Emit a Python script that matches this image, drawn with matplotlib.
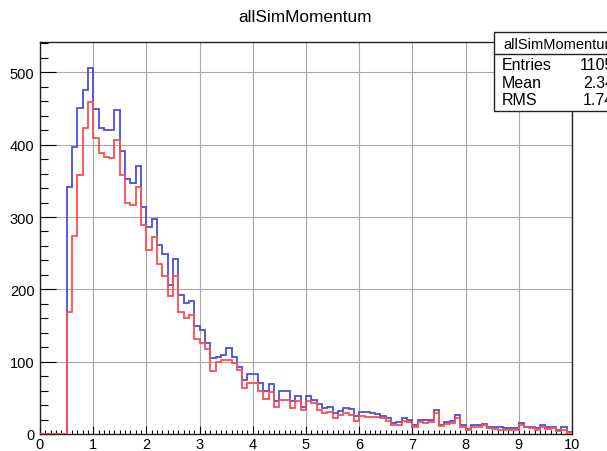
import numpy as np
import matplotlib.pyplot as plt
from matplotlib.patches import Rectangle
from matplotlib.lines import Line2D

plt.rcParams['font.family'] = ['Liberation Sans', 'DejaVu Sans']

# histogram binning: 100 bins from 0 to 10
x_lo, x_hi, n_bins = 0.0, 10.0, 100

# counts per bin, bins 0.0-0.1 ... 9.9-10.0
all_counts = [
    0, 0, 0, 0, 0, 342, 397, 451, 476, 506,
    450, 423, 420, 420, 448, 391, 353, 347, 371, 314,
    286, 297, 262, 249, 206, 242, 192, 181, 184, 149,
    144, 126, 105, 107, 109, 119, 107, 93, 75, 83,
    83, 70, 59, 69, 45, 59, 59, 45, 52, 38,
    52, 47, 42, 36, 37, 29, 32, 36, 34, 25,
    30, 30, 29, 28, 25, 22, 15, 16, 22, 19,
    13, 20, 19, 19, 33, 13, 17, 18, 26, 13,
    7, 12, 13, 14, 10, 9, 9, 8, 8, 8,
    15, 10, 10, 8, 13, 10, 10, 6, 9, 3,
]
sel_counts = [
    0, 0, 0, 0, 0, 168, 274, 358, 423, 459,
    409, 389, 383, 382, 406, 358, 320, 317, 341, 289,
    255, 273, 235, 219, 191, 218, 168, 161, 165, 131,
    126, 117, 87, 100, 102, 103, 98, 89, 63, 71,
    71, 60, 48, 58, 38, 47, 47, 36, 45, 33,
    45, 43, 33, 29, 31, 22, 26, 29, 26, 18,
    25, 24, 24, 24, 22, 18, 12, 13, 18, 16,
    10, 17, 15, 16, 29, 11, 14, 15, 22, 10,
    5, 9, 10, 12, 8, 7, 6, 6, 6, 5,
    12, 9, 8, 6, 10, 7, 8, 4, 6, 2,
]

title = "allSimMomentum"
stats_labels = ["Entries", "Mean", "RMS"]
stats_values = ["11059", "2.349", "1.745"]

edges = np.linspace(x_lo, x_hi, n_bins + 1)

fig = plt.figure(figsize=(6.07, 4.52), dpi=100)
W, H = 607.0, 452.0
ax = fig.add_axes([40 / W, 1 - 435 / H, 532 / W, 392 / H])

ax.stairs(all_counts, edges, baseline=0, color='#4d4ddf', lw=1.3, zorder=3)
ax.stairs(sel_counts, edges, baseline=0, color='#ff4d4d', lw=1.3, zorder=4)

ax.set_xlim(x_lo, x_hi)
ax.set_ylim(0, 542)
ax.set_xticks(np.arange(0, 11, 1))
ax.set_xticks(np.arange(0, 10.01, 0.1), minor=True)
ax.set_yticks(np.arange(0, 501, 100))
ax.set_yticks(np.arange(0, 541, 20), minor=True)
ax.grid(True, which='major', color='#a8a8a8', lw=0.8, zorder=0)
ax.set_axisbelow(True)

ax.tick_params(axis='x', which='major', direction='in', length=6, width=0.8,
               labelsize=10.5, pad=2, top=False)
ax.tick_params(axis='x', which='minor', direction='in', length=3, width=0.8, top=False)
ax.tick_params(axis='y', which='major', direction='in', length=11.5, width=0.8,
               labelsize=10.5, pad=4, right=False)
ax.tick_params(axis='y', which='minor', direction='in', length=5.8, width=0.8, right=False)
for s in ax.spines.values():
    s.set_linewidth(1.0)
    s.set_color('#222222')

fig.text(305 / W, 1 - 18 / H, title, ha='center', va='center', fontsize=12.4)

# stats box, partly outside the canvas as in the original
box = Rectangle((494 / W, 1 - 112 / H), 140 / W, 79 / H, transform=fig.transFigure,
                facecolor='white', edgecolor='#222222', lw=1.0, zorder=10, clip_on=False)
fig.add_artist(box)
fig.add_artist(Line2D([494 / W, 1.05], [1 - 55 / H, 1 - 55 / H], transform=fig.transFigure,
                      color='#222222', lw=1.0, zorder=11))
fig.text(503 / W, 1 - 45 / H, title, ha='left', va='center', fontsize=10.5, zorder=12)
for i, (lab, val) in enumerate(zip(stats_labels, stats_values)):
    yy = 1 - (65 + 18 * i) / H
    fig.text(502 / W, yy, lab, ha='left', va='center', fontsize=11.5, zorder=12)
    fig.text(623 / W, yy, val, ha='right', va='center', fontsize=11.5, zorder=12)

fig.savefig('out.png', dpi=100)
